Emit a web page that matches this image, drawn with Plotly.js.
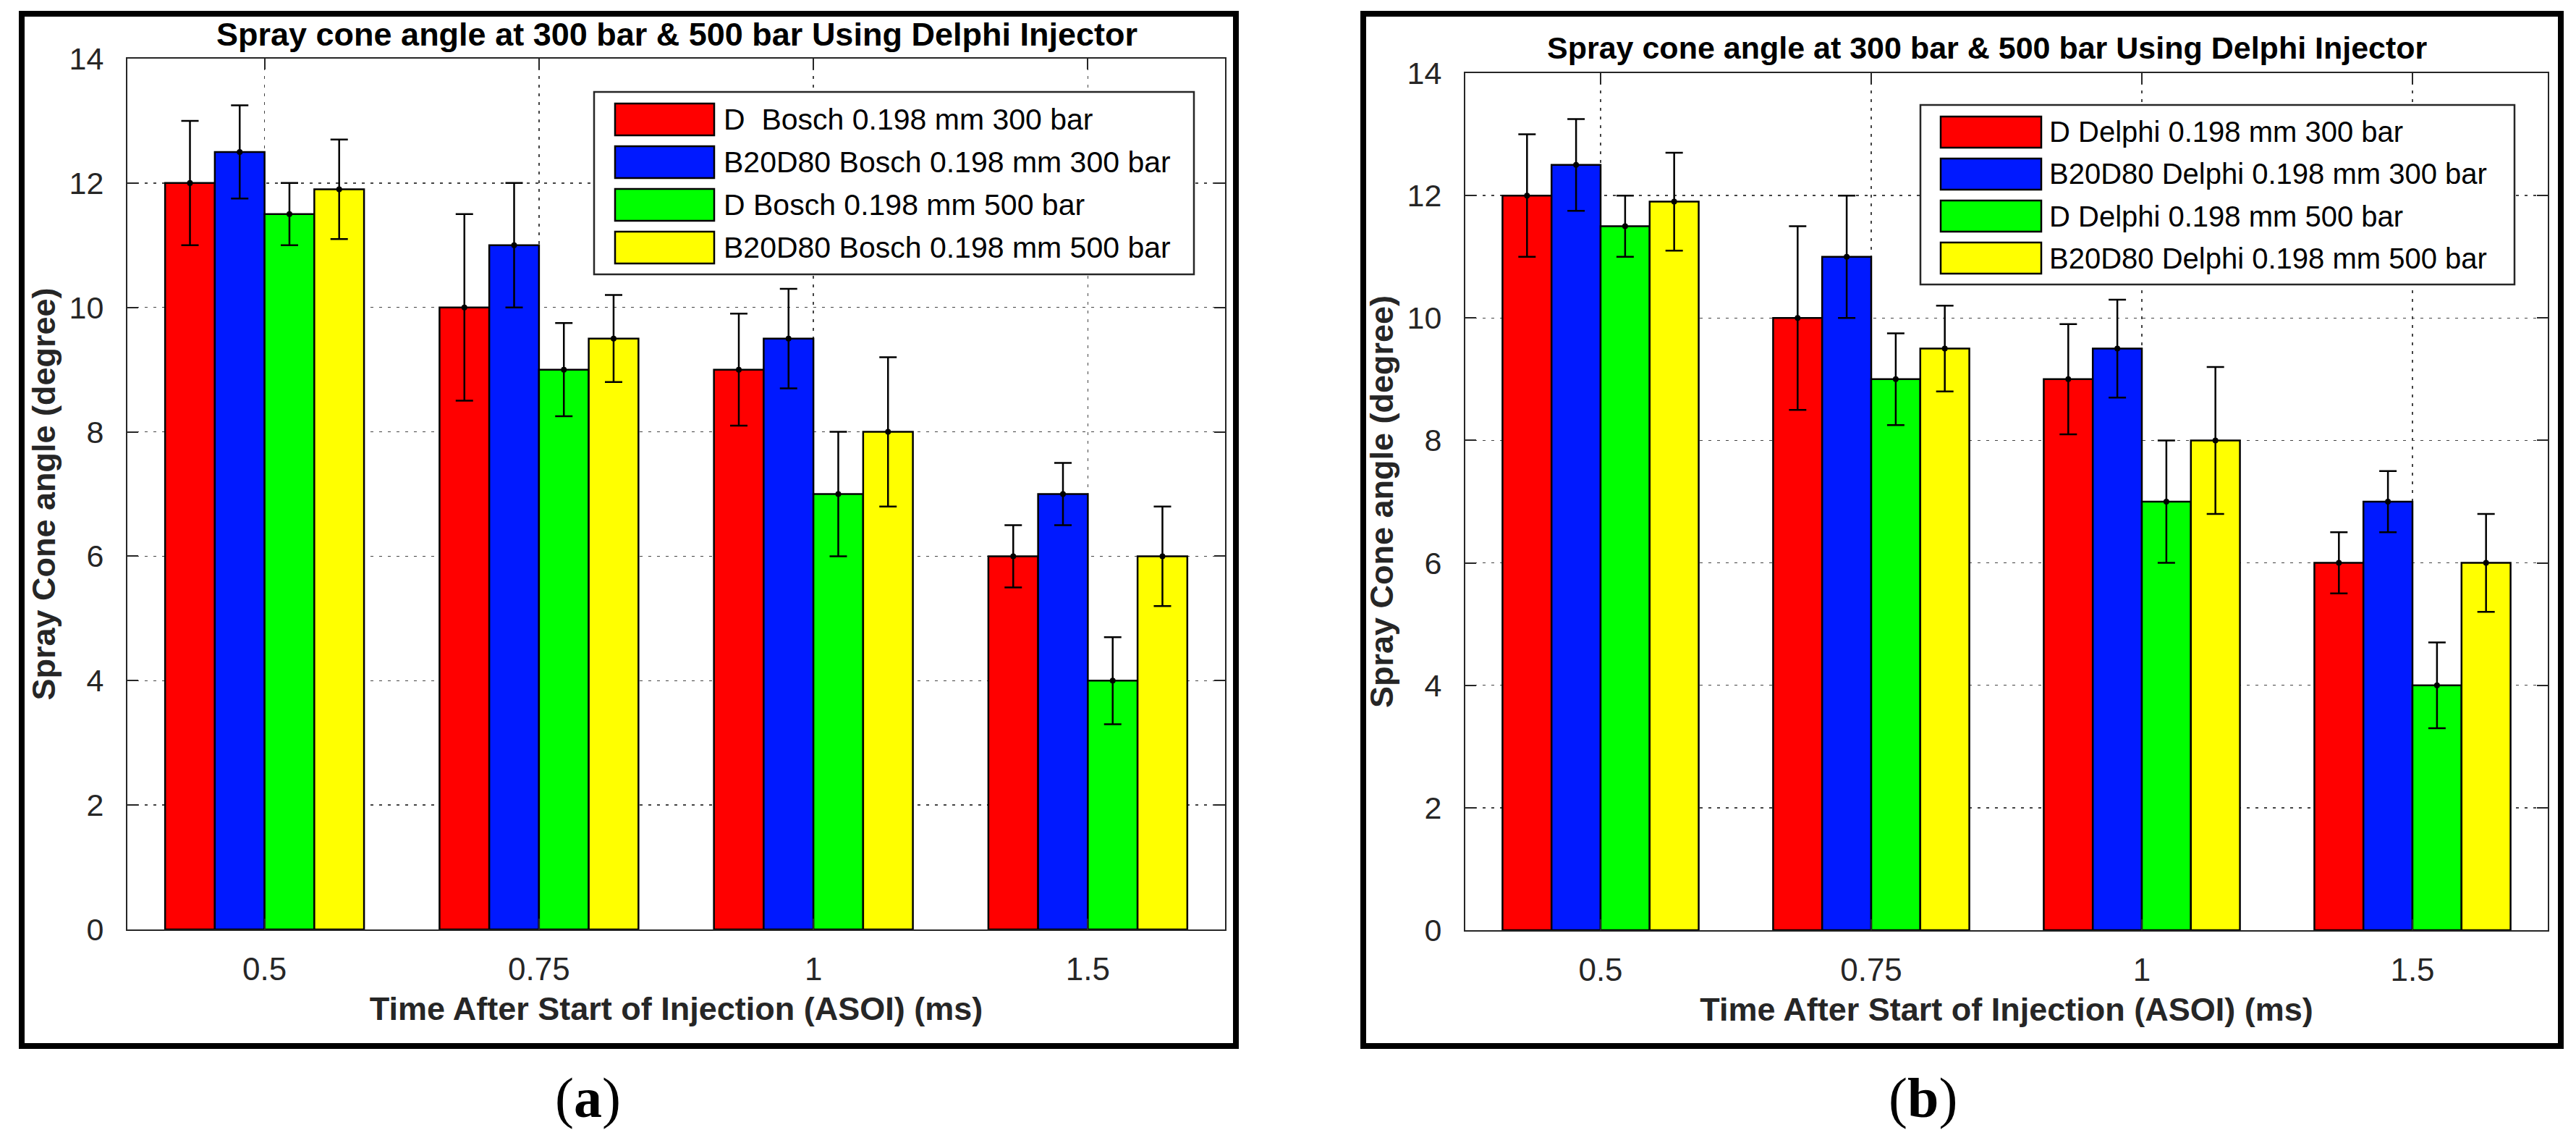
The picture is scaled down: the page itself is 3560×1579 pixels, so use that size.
<!DOCTYPE html>
<html>
<head>
<meta charset="utf-8">
<script src="https://cdn.plot.ly/plotly-3.0.1.min.js"></script>
<style>html,body{margin:0;padding:0;background:#fff;}#chart{width:3560px;height:1579px;}</style>
</head>
<body>
<div id="chart"></div>
<script>
// ---------- data ----------
const categories = ['0.5', '0.75', '1', '1.5'];

const namesA = ['D\u00a0 Bosch 0.198 mm 300 bar', 'B20D80 Bosch 0.198 mm 300 bar', 'D Bosch 0.198 mm 500 bar', 'B20D80 Bosch 0.198 mm 500 bar'];
const namesB = ['D Delphi 0.198 mm 300 bar', 'B20D80 Delphi 0.198 mm 300 bar', 'D Delphi 0.198 mm 500 bar', 'B20D80 Delphi 0.198 mm 500 bar'];

const d300 = [12, 10, 9, 6];
const d300Err = [1, 1.5, 0.9, 0.5];
const b300 = [12.5, 11, 9.5, 7];
const b300Err = [0.75, 1, 0.8, 0.5];
const d500 = [11.5, 9, 7, 4];
const d500Err = [0.5, 0.75, 1, 0.7];
const b500 = [11.9, 9.5, 8, 6];
const b500Err = [0.8, 0.7, 1.2, 0.8];

const yTicks = [0, 2, 4, 6, 8, 10, 12, 14];
const chartTitle = 'Spray cone angle at 300 bar & 500 bar Using Delphi Injector';
const xTitle = 'Time After Start of Injection (ASOI) (ms)';
const yTitle = 'Spray Cone angle (degree)';

const colors = ['#FF0000', '#0019FF', '#00FF00', '#FFFF00'];
const values = [d300, b300, d500, b500];
const errors = [d300Err, b300Err, d500Err, b500Err];

// ---------- helpers ----------
const W = 3560, H = 1579;
const px = v => v / W;
const py = v => 1 - v / H;
const FONT = 'Liberation Sans, Arial, sans-serif';
const AX = '#262626';

const traces = [];
[['x', 'y'], ['x2', 'y2']].forEach(([xa, ya]) => {
  values.forEach((vals, i) => {
    traces.push({
      type: 'bar', x: categories, y: vals, xaxis: xa, yaxis: ya,
      marker: {color: colors[i], line: {color: '#000', width: 2.5}},
      error_y: {type: 'data', array: errors[i], visible: true, color: '#000', thickness: 2.5, width: 12},
      showlegend: false, hoverinfo: 'skip'
    });
  });
  values.forEach((vals, i) => {
    traces.push({
      type: 'scatter', mode: 'markers', x: categories, y: vals, xaxis: xa, yaxis: ya,
      marker: {color: '#000', size: 8}, showlegend: false, hoverinfo: 'skip'
    });
  });
});

function xaxisDef(domain, anchor) {
  return {
    domain: domain, anchor: anchor, type: 'category', range: [-0.5, 3.5],
    showline: true, linecolor: AX, linewidth: 2, mirror: 'allticks',
    ticks: 'inside', ticklen: 15, tickwidth: 2, tickcolor: AX,
    showgrid: true, gridcolor: '#444', gridwidth: 1.5, griddash: '4px,8px',
    tickfont: {family: FONT, size: 44, color: AX}, ticklabelstandoff: 15,
    title: {text: xTitle, font: {family: FONT, size: 45, color: AX, weight: 700}, standoff: 16},
    zeroline: false, fixedrange: true
  };
}
function yaxisDef(domain, anchor) {
  return {
    domain: domain, anchor: anchor, range: [0, 14], tickvals: yTicks,
    showline: true, linecolor: AX, linewidth: 2, mirror: 'allticks',
    ticks: 'inside', ticklen: 15, tickwidth: 2, tickcolor: AX,
    showgrid: true, gridcolor: '#444', gridwidth: 1.5, griddash: '4px,8px',
    tickfont: {family: FONT, size: 43, color: AX}, ticklabelstandoff: 22,
    title: {text: yTitle, font: {family: FONT, size: 45, color: AX, weight: 700}, standoff: 5},
    zeroline: false, fixedrange: true
  };
}

const shapes = [];
const annotations = [];

// outer frames
[[30, 1708], [1884, 3539]].forEach(([x0, x1]) => {
  shapes.push({type: 'rect', xref: 'paper', yref: 'paper', x0: px(x0), x1: px(x1), y0: py(19), y1: py(1445),
    line: {color: '#000', width: 8}, fillcolor: 'rgba(0,0,0,0)', layer: 'above'});
});

// titles
annotations.push({xref: 'paper', yref: 'paper', x: px(935), y: py(48), text: chartTitle, showarrow: false,
  xanchor: 'center', yanchor: 'middle', font: {family: FONT, size: 45, color: '#000', weight: 700}});
annotations.push({xref: 'paper', yref: 'paper', x: px(2746), y: py(66), text: chartTitle, showarrow: false,
  xanchor: 'center', yanchor: 'middle', font: {family: FONT, size: 43, color: '#000', weight: 700}});

// custom legends (large patches like the original)
function legend(names, box, patchX, rowTop, rowH, step, textX, fsize) {
  shapes.push({type: 'rect', xref: 'paper', yref: 'paper', x0: px(box[0]), x1: px(box[2]), y0: py(box[1]), y1: py(box[3]),
    line: {color: AX, width: 2.5}, fillcolor: '#fff', layer: 'above'});
  names.forEach((n, i) => {
    const top = rowTop + i * step;
    shapes.push({type: 'rect', xref: 'paper', yref: 'paper', x0: px(patchX[0]), x1: px(patchX[1]), y0: py(top), y1: py(top + rowH),
      line: {color: '#000', width: 2.5}, fillcolor: colors[i], layer: 'above'});
    annotations.push({xref: 'paper', yref: 'paper', x: px(textX), y: py(top + rowH / 2), text: n, showarrow: false,
      xanchor: 'left', yanchor: 'middle', font: {family: FONT, size: fsize, color: '#000'}});
  });
}
legend(namesA, [821, 127, 1650, 379], [850, 987], 143, 44, 59, 998, 41);
legend(namesB, [2654, 145, 3475, 393], [2682, 2821], 161, 43, 58, 2830, 40);

// panel labels
annotations.push({xref: 'paper', yref: 'paper', x: px(812), y: py(1516), text: '(<b>a</b>)', showarrow: false,
  xanchor: 'center', yanchor: 'middle', font: {family: 'Liberation Serif, Times New Roman, serif', size: 78, color: '#000'}});
annotations.push({xref: 'paper', yref: 'paper', x: px(2657), y: py(1516), text: '(<b>b</b>)', showarrow: false,
  xanchor: 'center', yanchor: 'middle', font: {family: 'Liberation Serif, Times New Roman, serif', size: 78, color: '#000'}});

const layout = {
  width: W, height: H,
  margin: {l: 0, r: 0, t: 0, b: 0},
  paper_bgcolor: '#fff', plot_bgcolor: '#fff',
  barmode: 'group', bargap: 0.275, bargroupgap: 0,
  scattermode: 'group', scattergap: 0.275,
  showlegend: false,
  xaxis: xaxisDef([px(176), px(1693)], 'y'),
  yaxis: yaxisDef([1 - 1284 / H, 1 - 81 / H], 'x'),
  xaxis2: xaxisDef([px(2025), px(3521)], 'y2'),
  yaxis2: yaxisDef([1 - 1285 / H, 1 - 101 / H], 'x2'),
  shapes: shapes,
  annotations: annotations
};

Plotly.newPlot('chart', traces, layout, {displayModeBar: false, staticPlot: true});
</script>
</body>
</html>
